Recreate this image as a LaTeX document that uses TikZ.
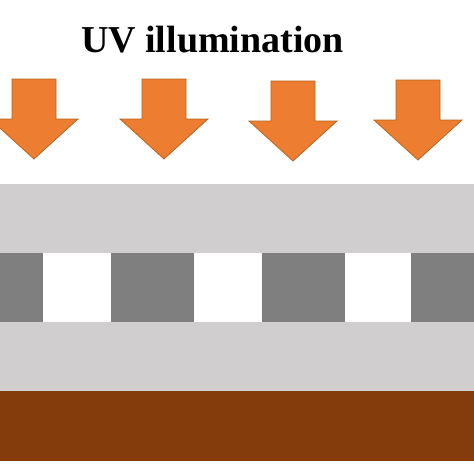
\documentclass[tikz,border=0pt]{standalone}
\usepackage{fontspec}
\setmainfont{Liberation Serif}
\definecolor{uvorange}{HTML}{ED7D31}
\definecolor{uvedge}{HTML}{B5651D}
\definecolor{lgray}{HTML}{D0CECE}
\definecolor{dgray}{HTML}{7F7F7F}
\definecolor{brownlayer}{HTML}{843C0C}
\tikzset{
  x=1pt, y=-1pt,
  uvarrow/.pic={
    \fill[uvorange, draw=uvedge, line width=0.8pt]
      (-22,0) -- (22,0) -- (22,40) -- (44,40) -- (0,80) -- (-44,40) -- (-22,40) -- cycle;
  },
  layer/.style={draw=none},
}
\begin{document}
\begin{tikzpicture}
\useasboundingbox (0,0) rectangle (474,474);
\clip (0,0) rectangle (474,474);
\fill[white] (0,0) rectangle (474,474);
\node[anchor=base, font=\bfseries\fontsize{38}{40}\selectfont, inner sep=0pt] (title) at (212.5,52) {UV illumination};
\pic at (34,79) {uvarrow};
\pic at (164,79) {uvarrow};
\pic at (293,81) {uvarrow};
\pic at (418,80) {uvarrow};
% layers
\fill[lgray, layer] (0,184) rectangle (474,253);
\fill[lgray, layer] (0,322) rectangle (474,391);
\fill[brownlayer, layer] (0,391) rectangle (474,461);
% mask row
\fill[dgray] (0,253) rectangle (43,322);
\fill[white] (43,253) rectangle (111,322);
\fill[dgray] (111,253) rectangle (194,322);
\fill[white] (194,253) rectangle (262,322);
\fill[dgray] (262,253) rectangle (345,322);
\fill[white] (345,253) rectangle (411,322);
\fill[dgray] (411,253) rectangle (474,322);
\end{tikzpicture}
\end{document}
